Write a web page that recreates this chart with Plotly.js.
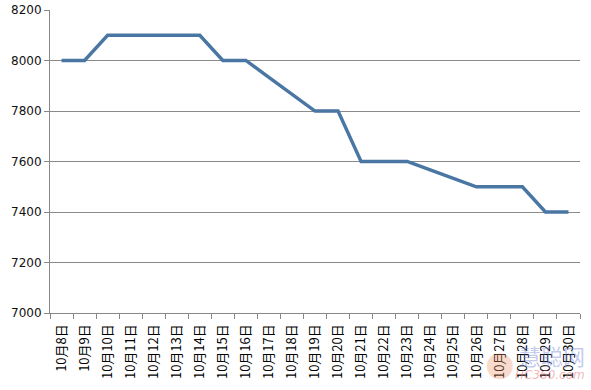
<!DOCTYPE html>
<html>
<head>
<meta charset="utf-8">
<script src="https://cdn.plot.ly/plotly-3.0.1.min.js"></script>
<style>html,body{margin:0;padding:0;background:#fff;}#chart{width:591px;height:390px;}</style>
</head>
<body>
<div id="chart"></div>
<script>
const categories = ["10月8日","10月9日","10月10日","10月11日","10月12日","10月13日","10月14日","10月15日","10月16日","10月17日","10月18日","10月19日","10月20日","10月21日","10月22日","10月23日","10月24日","10月25日","10月26日","10月27日","10月28日","10月29日","10月30日"];
const prices = [8000,8000,8100,8100,8100,8100,8100,8000,8000,7933,7867,7800,7800,7600,7600,7600,7567,7533,7500,7500,7500,7400,7400];
const yTicks = [7000,7200,7400,7600,7800,8000,8200];

const trace = {
  x: categories, y: prices, type: 'scatter', mode: 'lines',
  line: {color: '#4a76a4', width: 3.4},
  hoverinfo: 'skip'
};
const layout = {
  width: 591, height: 390,
  margin: {l: 50, r: 11, t: 10, b: 77},
  paper_bgcolor: '#ffffff', plot_bgcolor: '#ffffff',
  showlegend: false,
  xaxis: {
    type: 'category', tickson: 'boundaries', ticks: 'outside', ticklen: 5,
    tickcolor: '#888', showline: true, linecolor: '#888', linewidth: 1,
    showgrid: false, tickangle: -90, ticklabelstandoff: 5,
    tickfont: {family: 'Noto Sans CJK SC', size: 13, color: '#000'},
    range: [-0.5, categories.length - 0.5], fixedrange: true
  },
  yaxis: {
    range: [7000, 8200], tickvals: yTicks, ticktext: yTicks.map(String),
    ticks: 'outside', ticklen: 5, tickcolor: '#888',
    showline: true, linecolor: '#888', linewidth: 1,
    showgrid: true, gridcolor: '#8a8a8a', gridwidth: 1, zeroline: false,
    tickfont: {family: 'DejaVu Sans', size: 12, color: '#111'}
  },
  annotations: [
    {xref:'paper', yref:'paper', x: 0.849, y: -0.165, xanchor: 'center', yanchor: 'middle',
     text: '●', showarrow: false,
     font: {family: 'DejaVu Sans', size: 34, color: 'rgba(240,150,110,0.35)'}},
    {xref:'paper', yref:'paper', x: 0.947, y: -0.14, xanchor: 'center', yanchor: 'middle',
     text: '慧聪网', showarrow: false,
     font: {family: 'Noto Sans CJK SC', size: 22, color: 'rgba(120,140,220,0.45)'}},
    {xref:'paper', yref:'paper', x: 0.943, y: -0.205, xanchor: 'center', yanchor: 'middle',
     text: '<i>HC360.com</i>', showarrow: false,
     font: {family: 'DejaVu Sans', size: 12, color: 'rgba(230,110,120,0.5)'}}
  ]
};
Plotly.newPlot('chart', [trace], layout, {staticPlot: true, displayModeBar: false});
</script>
</body>
</html>
